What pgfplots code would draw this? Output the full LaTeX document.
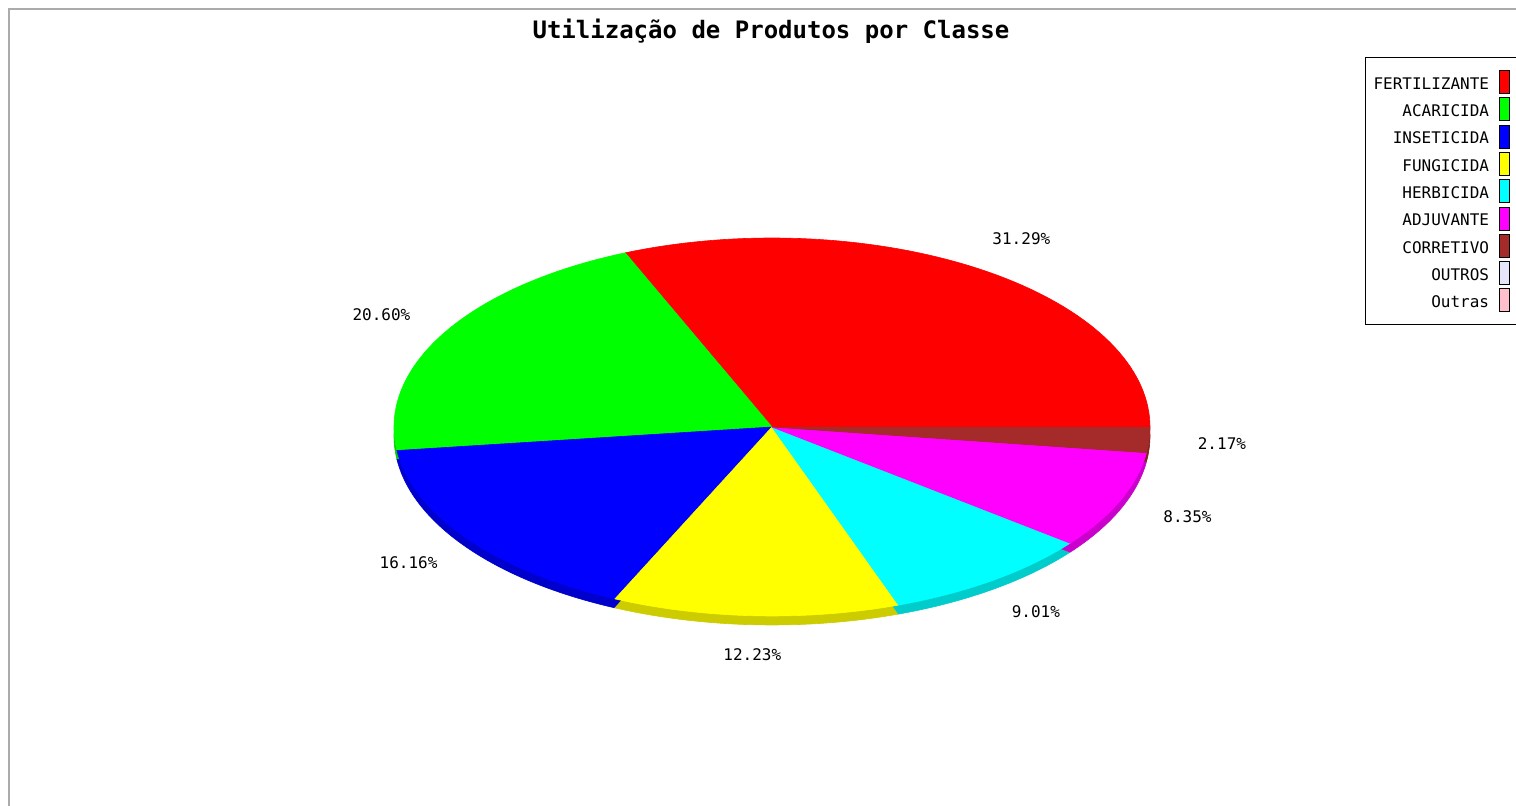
\documentclass[border=0pt]{standalone}
\usepackage{pgfplots}
\pgfplotsset{compat=1.18}
\usepackage{pgfplotstable}
\usepackage{fontspec}
\setmainfont{DejaVu Sans}
\setmonofont{DejaVu Sans Mono}

% slice colours (top) in table order
\definecolor{pcol0}{HTML}{FF0000}
\definecolor{pcol1}{HTML}{00FF00}
\definecolor{pcol2}{HTML}{0000FF}
\definecolor{pcol3}{HTML}{FFFF00}
\definecolor{pcol4}{HTML}{00FFFF}
\definecolor{pcol5}{HTML}{FF00FF}
\definecolor{pcol6}{HTML}{A52A2A}
\definecolor{pcol7}{HTML}{E6E6FA}
\definecolor{pcol8}{HTML}{FFC0CB}

\pgfplotstableread{
label        value
FERTILIZANTE 31.29
ACARICIDA    20.60
INSETICIDA   16.16
FUNGICIDA    12.23
HERBICIDA    9.01
ADJUVANTE    8.35
CORRETIVO    2.17
}\piedata

% pie geometry in pixel units (y measured upwards)
\def\cx{772}\def\cy{379}\def\rx{378}\def\ry{189}\def\depth{9}

\begin{document}
\begin{tikzpicture}
% cumulative angles, sample lists and label positions from the table
\def\total{0}
\pgfplotsforeachungrouped \i in {0,...,6}{%
  \pgfplotstablegetelem{\i}{value}\of\piedata
  \pgfmathsetmacro\total{\total+\pgfplotsretval}%
}
\def\cum{0}
\pgfplotsforeachungrouped \i in {0,...,6}{%
  \pgfplotstablegetelem{\i}{value}\of\piedata
  \let\v\pgfplotsretval
  \pgfmathsetmacro\sa{\cum/\total*360}%
  \pgfmathsetmacro\cum{\cum+\v}%
  \pgfmathsetmacro\sb{\cum/\total*360}%
  \def\lst{-1}%
  \pgfplotsforeachungrouped \k in {0,...,72}{%
    \pgfmathsetmacro\t{\sa+(\sb-\sa)*\k/72}%
    \edef\lst{\lst,\t}%
  }%
  \expandafter\let\csname sampL\i\endcsname\lst
  \pgfmathsetmacro\sm{(\sa+\sb)/2}%
  \pgfmathsetmacro\lx{\cx+451*cos(\sm)}%
  \pgfmathsetmacro\ly{\cy-1+227*sin(\sm)}%
  \expandafter\let\csname lblx\i\endcsname\lx
  \expandafter\let\csname lbly\i\endcsname\ly
  \expandafter\let\csname lblt\i\endcsname\v
}
\begin{axis}[
    name=ax,
    width=758pt, height=403pt,
    scale only axis,
    xmin=0, xmax=1516, ymin=0, ymax=806,
    hide axis,
    clip=false,
    legend cell align=right,
    legend style={
        at={(axis cs:1365,749)}, anchor=north west,
        draw=black, line width=0.5pt,
        font=\ttfamily\fontsize{8}{9}\selectfont,
        legend plot pos=right,
        inner xsep=4pt, inner ysep=6.3pt,
        row sep=1.75pt, column sep=5pt,
        nodes={inner sep=0pt},
    },
    legend image code/.code={%
        \draw[draw=black, line width=0.4pt] (0pt,-4.3pt) rectangle (5pt,7.2pt);},
]
% darker side (wedges shifted down by the depth)
\pgfplotsforeachungrouped \i in {0,...,6}{%
  \edef\cmd{\noexpand\addplot[forget plot, fill=pcol\i!80!black, draw=pcol\i!80!black,
     line width=0.3pt, samples at={\csname sampL\i\endcsname}]
     ({ifthenelse(x<0,\cx,\cx+\rx*cos(x))},{ifthenelse(x<0,\cy-\depth,\cy-\depth+\ry*sin(x))});}%
  \cmd
}
% top face
\pgfplotsforeachungrouped \i in {0,...,6}{%
  \edef\cmd{\noexpand\addplot[fill=pcol\i, draw=pcol\i,
     line width=0.3pt, samples at={\csname sampL\i\endcsname}]
     ({ifthenelse(x<0,\cx,\cx+\rx*cos(x))},{ifthenelse(x<0,\cy,\cy+\ry*sin(x))});}%
  \cmd
  \pgfplotstablegetelem{\i}{label}\of\piedata
  \edef\cmd{\noexpand\addlegendentry{\pgfplotsretval}}%
  \cmd
}
\addlegendimage{fill=pcol7}
\addlegendentry{OUTROS}
\addlegendimage{fill=pcol8}
\addlegendentry{Outras}
% percentage labels
\pgfplotsforeachungrouped \i in {0,...,6}{%
  \edef\cmd{\noexpand\node[font=\noexpand\ttfamily\noexpand\fontsize{8}{9}\noexpand\selectfont]
     at (axis cs:\csname lblx\i\endcsname,\csname lbly\i\endcsname)
     {\csname lblt\i\endcsname\noexpand\%};}%
  \cmd
}
% title and frame
\node[font=\ttfamily\bfseries\fontsize{12}{14}\selectfont] at (axis cs:771,775)
    {Utilização de Produtos por Classe};
\draw[black!33, line width=1.2pt] (axis cs:1540,797) -- (axis cs:9,797) -- (axis cs:9,-30);
\end{axis}
\pgfresetboundingbox
\path (ax.south west) rectangle (ax.north east);
\end{tikzpicture}
\end{document}
